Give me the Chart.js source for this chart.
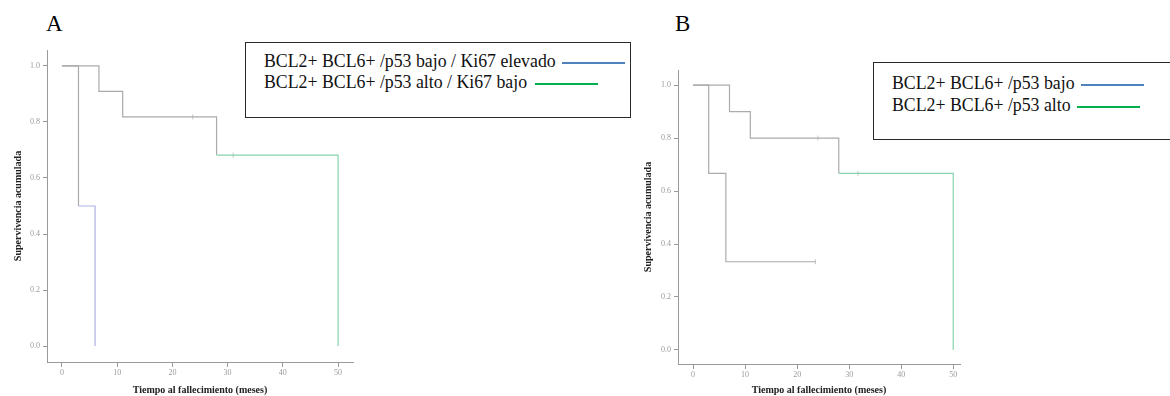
<!DOCTYPE html>
<html lang="es">
<head>
<meta charset="utf-8">
<title>Supervivencia acumulada</title>
<script src="https://cdn.jsdelivr.net/npm/chart.js@4.4.0/dist/chart.umd.min.js"></script>
<style>
    html, body { margin: 0; padding: 0; background: #fff; }
    body { width: 1170px; height: 396px; position: relative; overflow: hidden; font-family: "Liberation Serif", "Times New Roman", serif; }
    .panel-label { position: absolute; font-size: 23px; line-height: 1; color: #000; }
    .chart-wrap { position: absolute; }
    .legend-box { position: absolute; border: 1.5px solid #2a2a2a; box-sizing: border-box; background: #fff; }
    .legend-row { position: absolute; font-size: 17.8px; line-height: 1; white-space: nowrap; color: #111; }
    .swatch { display: inline-block; width: 63px; height: 0; border-top: 2.5px solid; vertical-align: middle; margin-left: 6px; }
</style>
</head>
<body>
    <div class="panel-label" style="left:46px; top:12px;">A</div>
    <div class="panel-label" style="left:675px; top:12px;">B</div>

    <div class="chart-wrap" style="left:0; top:40px; width:360px; height:356px;">
        <canvas id="chartA" width="360" height="356"></canvas>
    </div>
    <div class="chart-wrap" style="left:630px; top:40px; width:340px; height:356px;">
        <canvas id="chartB" width="340" height="356"></canvas>
    </div>

    <div class="legend-box" style="left:245px; top:42px; width:386px; height:76px;">
        <div class="legend-row" style="left:18px; top:10px;">BCL2+ BCL6+ /p53 bajo / Ki67 elevado<span class="swatch" style="border-color:#4f81bd;"></span></div>
        <div class="legend-row" style="left:18px; top:31px;">BCL2+ BCL6+ /p53 alto / Ki67 bajo<span class="swatch" style="border-color:#00b050; margin-left:8px;"></span></div>
    </div>
    <div class="legend-box" style="left:873px; top:62px; width:320px; height:78px;">
        <div class="legend-row" style="left:18px; top:12px;">BCL2+ BCL6+ /p53 bajo<span class="swatch" style="border-color:#4f81bd;"></span></div>
        <div class="legend-row" style="left:18px; top:34px;">BCL2+ BCL6+ /p53 alto<span class="swatch" style="border-color:#00b050;"></span></div>
    </div>

<script>
// Axis ticks
const xTicks = [0, 10, 20, 30, 40, 50];
const yTicks = [0.0, 0.2, 0.4, 0.6, 0.8, 1.0];

// Panel A - p53 bajo / Ki67 elevado
const timeA1 = [0, 3, 6];
const survA1 = [1.0, 0.5, 0.0];
// Panel A - p53 alto / Ki67 bajo
const timeA2 = [0, 6.7, 11, 28, 50];
const survA2 = [1.0, 0.909, 0.818, 0.682, 0.0];
const censorTimeA2 = [23.7, 31];
const censorSurvA2 = [0.818, 0.682];

// Panel B - p53 bajo
const timeB1 = [0, 3, 6.3, 23.5];
const survB1 = [1.0, 0.667, 0.333, 0.333];
const censorTimeB1 = [23.5];
const censorSurvB1 = [0.333];
// Panel B - p53 alto
const timeB2 = [0, 7, 11, 28, 50];
const survB2 = [1.0, 0.9, 0.8, 0.667, 0.0];
const censorTimeB2 = [24, 31.7];
const censorSurvB2 = [0.8, 0.667];

const GRAY = '#ababab';
const AXIS = '#9a9a9a';
const GREEN_END = '#86d4ae';
const BLUE_END = '#aeb0e2';

let charts = {};

document.addEventListener('DOMContentLoaded', function() {
    charts.a = buildChart('chartA', {
        curves: [
            { t: timeA1, s: survA1, endColor: BLUE_END },
            { t: timeA2, s: survA2, endColor: GREEN_END }
        ],
        censors: [{ t: censorTimeA2, s: censorSurvA2 }],
        xMin: -2.7, xMax: 52.7, yMin: -0.057, yMax: 1.057,
        yWidth: 47, xHeight: 34, padTop: 10, padRight: 7
    });
    charts.b = buildChart('chartB', {
        curves: [
            { t: timeB1, s: survB1, endColor: GRAY },
            { t: timeB2, s: survB2, endColor: GREEN_END }
        ],
        censors: [
            { t: censorTimeB1, s: censorSurvB1 },
            { t: censorTimeB2, s: censorSurvB2 }
        ],
        xMin: -2.9, xMax: 51.3, yMin: -0.053, yMax: 1.057,
        yWidth: 48, xHeight: 32, padTop: 30, padRight: 10
    });
});

function toPoints(t, s) {
    return t.map((v, i) => ({ x: v, y: s[i] }));
}

// Kaplan-Meier style step curves: horizontal first, then drop
function buildChart(id, cfg) {
    const datasets = [];
    cfg.curves.forEach(c => {
        const last = c.t.length - 1;
        datasets.push({
            data: toPoints(c.t, c.s),
            stepped: 'before',
            borderColor: GRAY,
            borderWidth: 1.2,
            pointRadius: 0,
            fill: false,
            segment: {
                borderColor: ctx => ctx.p1DataIndex === last ? c.endColor : GRAY
            }
        });
    });
    cfg.censors.forEach(c => {
        datasets.push({
            data: toPoints(c.t, c.s),
            showLine: false,
            pointStyle: 'line',
            rotation: 90,
            pointRadius: 2.5,
            borderColor: '#c4c4c4',
            borderWidth: 1
        });
    });

    const tickFont = { family: 'Liberation Serif', size: 8 };
    const titleFont = { family: 'Liberation Serif', size: 10, weight: 'bold' };

    const ctx = document.getElementById(id).getContext('2d');
    return new Chart(ctx, {
        type: 'line',
        data: { datasets: datasets },
        options: {
            responsive: false,
            animation: false,
            layout: { padding: { top: cfg.padTop, right: cfg.padRight, left: 0, bottom: 0 } },
            plugins: {
                legend: { display: false },
                tooltip: { enabled: false }
            },
            scales: {
                x: {
                    type: 'linear',
                    min: cfg.xMin,
                    max: cfg.xMax,
                    afterBuildTicks: scale => { scale.ticks = xTicks.map(v => ({ value: v })); },
                    afterFit: scale => { scale.height = cfg.xHeight; },
                    ticks: { color: '#9a9a9a', font: tickFont, padding: 1, maxRotation: 0 },
                    grid: { drawOnChartArea: false, tickLength: 5, color: AXIS },
                    border: { color: AXIS, width: 1 },
                    title: {
                        display: true,
                        text: 'Tiempo al fallecimiento (meses)',
                        color: '#222',
                        font: titleFont,
                        padding: { top: 0, bottom: 0 }
                    }
                },
                y: {
                    type: 'linear',
                    min: cfg.yMin,
                    max: cfg.yMax,
                    afterBuildTicks: scale => { scale.ticks = yTicks.map(v => ({ value: v })); },
                    afterFit: scale => { scale.width = cfg.yWidth; },
                    ticks: {
                        color: '#9a9a9a',
                        font: tickFont,
                        padding: 3,
                        callback: v => v.toFixed(1)
                    },
                    grid: { drawOnChartArea: false, tickLength: 4, color: AXIS },
                    border: { color: AXIS, width: 1 },
                    title: {
                        display: true,
                        text: 'Supervivencia acumulada',
                        color: '#222',
                        font: titleFont,
                        padding: { top: 12, bottom: 0 }
                    }
                }
            }
        }
    });
}
</script>
</body>
</html>
